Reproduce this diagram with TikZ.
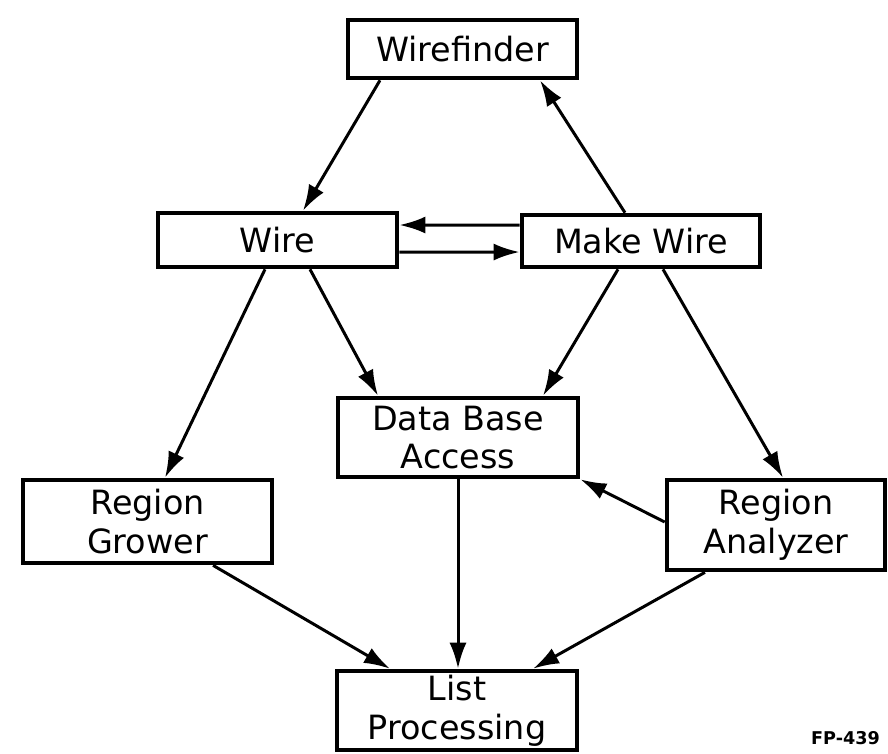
\documentclass[tikz,border=0pt]{standalone}
\usepackage{fontspec}
\setmainfont{DejaVu Sans}
\usetikzlibrary{arrows.meta}
\tikzset{
    caixa/.style={
        rectangle,
        draw,
        line width=1.3pt,
        inner sep=0pt,
        align=center,
        font=\fontsize{9.5}{11}\selectfont
    },
    seta/.style={-{Latex[length=2.6mm,width=1.7mm]}, line width=0.85pt}
}

\begin{document}
\begin{tikzpicture}[x=0.01cm, y=-0.01cm]
    \useasboundingbox (0,0) rectangle (888,753);
    \node[caixa, minimum width=2.29cm, minimum height=0.58cm] (wirefinder)
        at (462.5,49) {Wirefinder};
    \node[caixa, minimum width=2.39cm, minimum height=0.54cm] (wire)
        at (277.5,240) {Wire};
    \node[caixa, minimum width=2.38cm, minimum height=0.52cm] (makewire)
        at (641,241) {Make Wire};
    \node[caixa, minimum width=2.40cm, minimum height=0.79cm] (dbaccess)
        at (458,437.5) {Data Base\\Access};
    \node[caixa, minimum width=2.49cm, minimum height=0.83cm] (grower)
        at (147.5,521.5) {Region\\Grower};
    \node[caixa, minimum width=2.18cm, minimum height=0.90cm] (analyzer)
        at (776,525) {Region\\Analyzer};
    \node[caixa, minimum width=2.40cm, minimum height=0.79cm] (listproc)
        at (457,710.5) {List\\Processing};
    \node[anchor=east, inner sep=1pt, font=\fontsize{5}{5}\selectfont\bfseries] (fp)
        at (884,738) {FP-439};

    \draw[seta] ([xshift=-0.825cm]wirefinder.south) -- ([xshift=0.255cm]wire.north);
    \draw[seta] ([xshift=-0.16cm]makewire.north) -- ([xshift=0.775cm]wirefinder.south);
    \draw[seta] ([yshift=0.16cm]makewire.west) -- ([yshift=0.15cm]wire.east);
    \draw[seta] ([yshift=-0.12cm]wire.east) -- ([yshift=-0.11cm]makewire.west);
    \draw[seta] ([xshift=-0.125cm]wire.south) -- ([xshift=0.175cm]grower.north);
    \draw[seta] ([xshift=0.325cm]wire.south) -- ([xshift=-0.8cm]dbaccess.north);
    \draw[seta] ([xshift=-0.23cm]makewire.south) -- ([xshift=0.85cm]dbaccess.north);
    \draw[seta] ([xshift=0.22cm]makewire.south) -- ([xshift=0.07cm]analyzer.north);
    \draw[seta] ([yshift=0.03cm]analyzer.west) -- (dbaccess.south east);
    \draw[seta] (dbaccess.south) -- (dbaccess.south |- listproc.north);
    \draw[seta] ([xshift=0.655cm]grower.south) -- ([xshift=-0.67cm]listproc.north);
    \draw[seta] ([xshift=-0.71cm]analyzer.south) -- ([xshift=0.76cm]listproc.north);
\end{tikzpicture}
\end{document}
